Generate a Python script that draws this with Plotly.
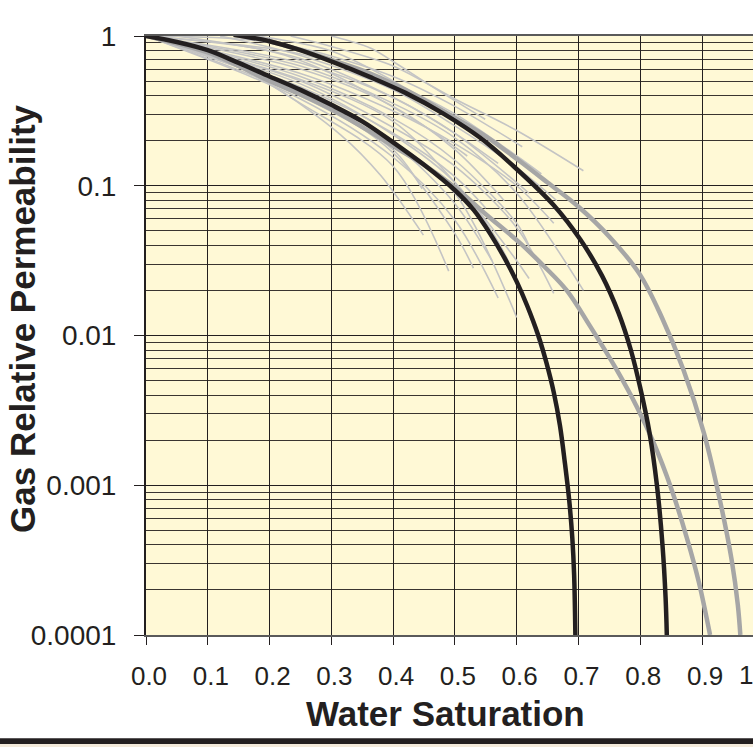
import plotly.graph_objects as go

# ---------------- data ----------------
# thick black curve A (lower model)
sw_black_a = [0, 0.05, 0.1, 0.15, 0.2, 0.25, 0.3, 0.35, 0.4, 0.45, 0.5, 0.53, 0.557, 0.58, 0.6,
              0.617, 0.635, 0.648, 0.66, 0.67, 0.678, 0.685, 0.69, 0.693, 0.695]
k_black_a = [1, 0.912, 0.804, 0.661, 0.537, 0.437, 0.347, 0.269, 0.195, 0.138, 0.0933, 0.0692, 0.0479,
             0.0331, 0.0229, 0.0158, 0.01, 0.00661, 0.00417, 0.00251, 0.00141, 0.000794, 0.000447,
             0.000251, 0.0001]

# thick black curve B (upper model)
sw_black_b = [0.142, 0.2, 0.25, 0.3, 0.363, 0.42, 0.482, 0.541, 0.595, 0.66, 0.703, 0.738, 0.765,
              0.785, 0.8, 0.815, 0.827, 0.836, 0.841, 0.843]
k_black_b = [1.02, 0.923, 0.804, 0.676, 0.531, 0.417, 0.302, 0.209, 0.135, 0.0741, 0.0437, 0.0251,
             0.0141, 0.00794, 0.00447, 0.00224, 0.001, 0.000398, 0.000178, 0.0001]

# thick gray curve A (lower)
sw_gray_a = [0, 0.05, 0.1, 0.15, 0.2, 0.25, 0.3, 0.363, 0.41, 0.45, 0.5, 0.55, 0.606, 0.645, 0.681,
             0.719, 0.762, 0.795, 0.822, 0.85, 0.876, 0.895, 0.913]
k_gray_a = [1, 0.891, 0.776, 0.631, 0.501, 0.407, 0.324, 0.229, 0.174, 0.138, 0.0977, 0.0646, 0.0412,
            0.0288, 0.02, 0.0115, 0.00589, 0.00331, 0.00191, 0.000955, 0.000437, 0.000224, 0.0001]

# thick gray curve B (upper)
sw_gray_b = [0.142, 0.2, 0.25, 0.3, 0.363, 0.42, 0.46, 0.498, 0.55, 0.603, 0.65, 0.7, 0.75, 0.799,
             0.835, 0.870, 0.903, 0.930, 0.948, 0.958, 0.962]
k_gray_b = [1.02, 0.923, 0.804, 0.692, 0.562, 0.437, 0.355, 0.288, 0.214, 0.148, 0.105, 0.0724,
            0.0457, 0.0257, 0.0132, 0.00589, 0.00224, 0.000759, 0.000316, 0.000158, 0.0001]

# thin light-gray measured curves
thin_sw = [
    [0.234, 0.3, 0.4, 0.5, 0.6, 0.708],
    [0, 0.15, 0.25, 0.4, 0.5, 0.609],
    [0.3, 0.363, 0.4, 0.46, 0.549],
    [0, 0.25, 0.4, 0.5, 0.6, 0.66],
    [0, 0.25, 0.4, 0.5, 0.6, 0.708],
    [0, 0.25, 0.4, 0.5, 0.6, 0.66],
    [0, 0.25, 0.4, 0.5, 0.6],
    [0, 0.1, 0.25, 0.4, 0.49],
    [0, 0.1, 0.2, 0.315, 0.38, 0.449],
    [0, 0.25, 0.4, 0.447],
    [0.12, 0.25, 0.4, 0.5, 0.6, 0.665],
    [0, 0.25, 0.4, 0.5, 0.58, 0.64],
    [0, 0.25, 0.4, 0.5, 0.58],
    [0, 0.25, 0.4, 0.5, 0.6, 0.62],
    [0, 0.25, 0.4, 0.5, 0.56],
    [0, 0.25, 0.4, 0.5, 0.55],
    [0.05, 0.25, 0.4, 0.5, 0.6, 0.62],
    [0, 0.25, 0.4, 0.5, 0.57],
    [0, 0.25, 0.4, 0.5, 0.57],
    [0, 0.25, 0.4, 0.5, 0.53],
    [0.18, 0.3, 0.4, 0.5, 0.55],
    [0, 0.25, 0.4, 0.5, 0.6, 0.64],
    [0, 0.2, 0.3, 0.45, 0.52],
    [0, 0.25, 0.4, 0.5, 0.6, 0.62],
]
thin_k = [
    [1, 0.851, 0.631, 0.380, 0.234, 0.126],
    [1, 0.955, 0.832, 0.537, 0.339, 0.182],
    [1, 0.832, 0.676, 0.468, 0.278],
    [1, 0.562, 0.316, 0.191, 0.1, 0.0562],
    [1, 0.631, 0.355, 0.209, 0.0891, 0.02],
    [1, 0.501, 0.245, 0.135, 0.0525, 0.0191],
    [1, 0.447, 0.2, 0.0891, 0.0132],
    [1, 0.794, 0.355, 0.135, 0.0269],
    [1, 0.759, 0.479, 0.219, 0.117, 0.0468],
    [1, 0.398, 0.174, 0.0955],
    [1, 0.741, 0.437, 0.251, 0.132, 0.0794],
    [1, 0.479, 0.219, 0.105, 0.0355, 0.00794],
    [1, 0.603, 0.339, 0.174, 0.0794],
    [1, 0.537, 0.282, 0.148, 0.0562, 0.0398],
    [1, 0.427, 0.191, 0.0759, 0.0316],
    [1, 0.457, 0.224, 0.115, 0.0708],
    [1, 0.708, 0.389, 0.224, 0.105, 0.0891],
    [1, 0.661, 0.389, 0.224, 0.141],
    [1, 0.380, 0.155, 0.0589, 0.0178],
    [1, 0.417, 0.166, 0.0479, 0.0282],
    [1, 0.794, 0.501, 0.275, 0.2],
    [1, 0.759, 0.479, 0.302, 0.158, 0.12],
    [1, 0.794, 0.562, 0.251, 0.158],
    [1, 0.513, 0.269, 0.105, 0.0316, 0.024],
]

x_tick_vals = [0, 0.1, 0.2, 0.3, 0.4, 0.5, 0.6, 0.7, 0.8, 0.9]
x_tick_text = ["0.0", "0.1", "0.2", "0.3", "0.4", "0.5", "0.6", "0.7", "0.8", "0.9"]
y_tick_vals = [1, 0.1, 0.01, 0.001, 0.0001]
y_tick_text = ["1", "0.1", "0.01", "0.001", "0.0001"]
y_minor_mantissas = [2, 3, 4, 5, 6, 7, 8, 9]
y_decades = [0.0001, 0.001, 0.01, 0.1]
y_minor_vals = [m * d for d in y_decades for m in y_minor_mantissas]

FONT = "Liberation Sans, Arial, Helvetica, sans-serif"
DARK = "#231f20"

fig = go.Figure()

for sw, k in zip(thin_sw, thin_k):
    fig.add_trace(go.Scatter(x=sw, y=k, mode="lines",
                             line=dict(color="#c4c4c4", width=1.6, shape="spline", smoothing=0.9),
                             hoverinfo="skip", showlegend=False))

for sw, k in [(sw_gray_a, k_gray_a), (sw_gray_b, k_gray_b)]:
    fig.add_trace(go.Scatter(x=sw, y=k, mode="lines",
                             line=dict(color="#a6a6a6", width=4.5, shape="spline", smoothing=1.0),
                             hoverinfo="skip", showlegend=False))

for sw, k in [(sw_black_a, k_black_a), (sw_black_b, k_black_b)]:
    fig.add_trace(go.Scatter(x=sw, y=k, mode="lines",
                             line=dict(color=DARK, width=4.5, shape="spline", smoothing=1.0),
                             hoverinfo="skip", showlegend=False))

fig.update_layout(
    width=753, height=747,
    margin=dict(l=146, r=0, t=36, b=112, pad=0),
    paper_bgcolor="white",
    plot_bgcolor="#FFF9D6",
    showlegend=False,
    font=dict(family=FONT, color=DARK),
    xaxis=dict(
        range=[0, 0.9825],
        tickmode="array", tickvals=x_tick_vals, ticktext=x_tick_text,
        ticks="outside", ticklen=8, tickwidth=1, tickcolor=DARK,
        tickfont=dict(size=26, color=DARK, family=FONT),
        ticklabelshift=3, ticklabelstandoff=9,
        showgrid=True, gridcolor=DARK, gridwidth=1,
        showline=True, linecolor="#5a5a5a", linewidth=2, mirror=True,
        zeroline=False, fixedrange=True,
    ),
    yaxis=dict(
        type="log", range=[-4, 0],
        tickmode="array", tickvals=y_tick_vals, ticktext=y_tick_text,
        ticks="outside", ticklen=10, tickwidth=1, tickcolor=DARK,
        tickfont=dict(size=28, color=DARK, family=FONT),
        ticklabelstandoff=12,
        showgrid=True, gridcolor=DARK, gridwidth=1,
        minor=dict(tickmode="array", tickvals=y_minor_vals, showgrid=True,
                   gridcolor="#3a3530", gridwidth=1, ticks=""),
        showline=True, linecolor=DARK, linewidth=2,
        zeroline=False, fixedrange=True,
    ),
    annotations=[
        dict(text="<b>Gas Relative Permeability</b>", textangle=-90,
             xref="paper", yref="paper", x=(22 - 146) / 607, y=(635 - 319) / 599,
             xanchor="center", yanchor="middle", showarrow=False,
             font=dict(size=35, family=FONT, color=DARK)),
        dict(text="<b>Water Saturation</b>",
             xref="paper", yref="paper", x=(445 - 146) / 607, y=(635 - 713) / 599,
             xanchor="center", yanchor="middle", showarrow=False,
             font=dict(size=35, family=FONT, color=DARK)),
        dict(text="1",
             xref="paper", yref="paper", x=(746 - 146) / 607, y=(635 - 675) / 599,
             xanchor="center", yanchor="middle", showarrow=False,
             font=dict(size=26, family=FONT, color=DARK)),
    ],
    shapes=[
        dict(type="rect", xref="paper", yref="paper",
             x0=-0.26, x1=1.02, y0=(635 - 744) / 599, y1=(635 - 738.3) / 599,
             fillcolor=DARK, line=dict(width=0), layer="above"),
        dict(type="rect", xref="paper", yref="paper",
             x0=-0.26, x1=1.02, y0=(635 - 748) / 599, y1=(635 - 744) / 599,
             fillcolor="#F3EADB", line=dict(width=0), layer="above"),
    ],
)

fig.write_html("out.html")
